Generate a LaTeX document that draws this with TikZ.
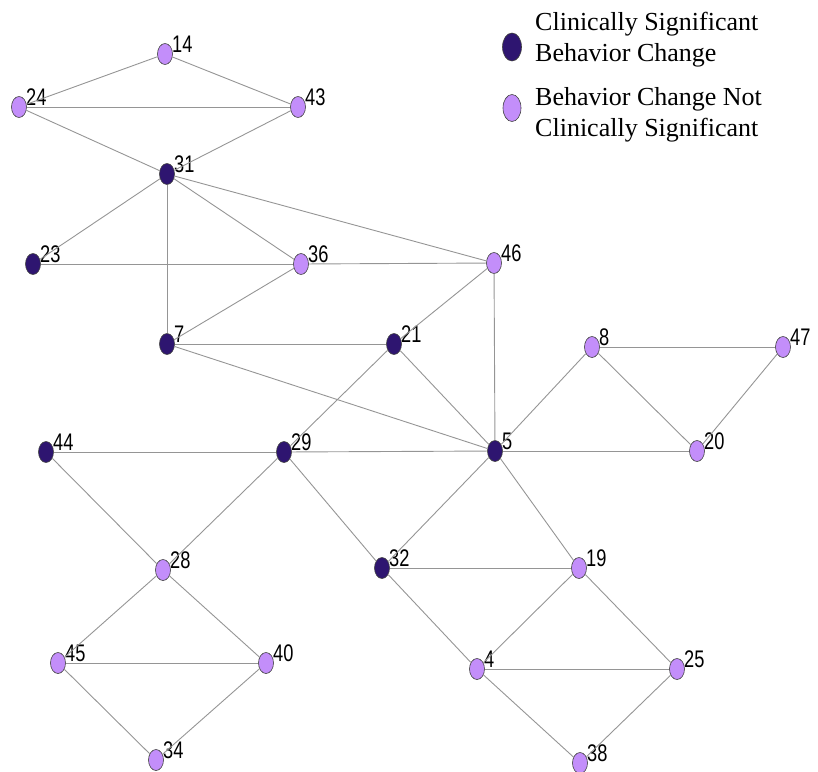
\documentclass[tikz,border=0pt]{standalone}
\usepackage{fontspec}
\setmainfont{Liberation Serif}
\newfontfamily\labfont[FakeStretch=0.76]{Liberation Sans}
\definecolor{darkn}{HTML}{2E1570}
\definecolor{lightn}{HTML}{C38EFA}
\definecolor{edgec}{HTML}{959595}
\usetikzlibrary{shapes.geometric}
\tikzset{
  gnode/.style={ellipse, draw=black!75, line width=0.6pt, minimum width=15pt, minimum height=21pt, inner sep=0pt},
  dk/.style={gnode, fill=darkn},
  lt/.style={gnode, fill=lightn},
  lab/.style={anchor=base west, inner sep=0pt, font=\labfont\fontsize{24}{24}\selectfont},
  edge/.style={draw=edgec, line width=0.9pt},
  legtext/.style={anchor=west, inner sep=0pt, align=left, font=\fontsize{26}{31}\selectfont}
}
\begin{document}
\begin{tikzpicture}[x=1pt,y=-1pt]
\useasboundingbox (0,0) rectangle (818,771);
\foreach \n/\x/\y/\s in {14/165/54/lt, 24/19/107/lt, 43/298/107/lt, 31/167/174/dk,
  23/33/264/dk, 36/301/264/lt, 46/494/263/lt, 7/167/344/dk, 21/394/344/dk,
  8/592/347/lt, 47/783/347/lt, 44/46/452/dk, 29/284/452/dk, 5/495/451/dk,
  20/697/451/lt, 28/163/570/lt, 32/382/568/dk, 19/579/568/lt, 45/58/663/lt,
  40/266/663/lt, 4/477/669/lt, 25/677/669/lt, 34/156/760/lt, 38/580/763/lt}{
  \node[\s] (v\n) at (\x,\y) {};
  \node[lab] (l\n) at (\x+7,\y-2) {\n};
}
\foreach \a/\b in {14/24, 14/43, 24/43, 24/31, 43/31, 31/23, 31/36, 31/7, 31/46,
  23/36, 36/46, 36/7, 7/21, 7/5, 46/21, 46/5, 21/29, 21/5, 8/5, 8/47, 8/20, 47/20,
  44/29, 29/5, 5/20, 44/28, 29/28, 29/32, 5/32, 5/19, 32/19, 28/45, 28/40, 45/40,
  45/34, 40/34, 32/4, 19/4, 19/25, 4/25, 4/38, 25/38}{
  \draw[edge] (v\a) -- (v\b);
}
\node[ellipse, draw=black!75, line width=0.6pt, fill=darkn, minimum width=19pt, minimum height=28pt, inner sep=0pt] (legd) at (512,47) {};
\node[ellipse, draw=black!75, line width=0.6pt, fill=lightn, minimum width=18pt, minimum height=27pt, inner sep=0pt] (legl) at (512,108) {};
\node[legtext] (t1) at (535,40) {Clinically Significant\\Behavior Change};
\node[legtext] (t2) at (535,115) {Behavior Change Not\\Clinically Significant};
\end{tikzpicture}
\end{document}
